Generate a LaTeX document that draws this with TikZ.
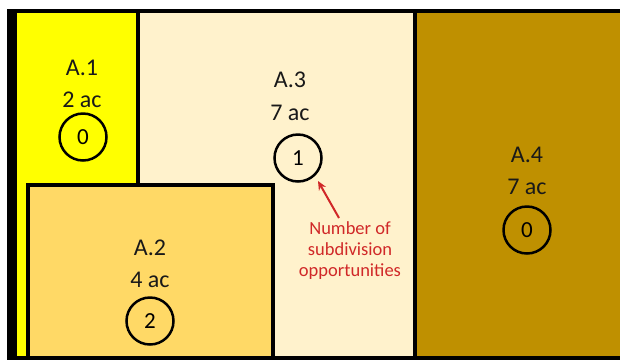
\documentclass[tikz,border=0pt]{standalone}
\usepackage{fontspec}
\setmainfont{Carlito}
\usetikzlibrary{arrows.meta}
\definecolor{aone}{HTML}{FFFF00}
\definecolor{atwo}{HTML}{FFD966}
\definecolor{athree}{HTML}{FFF2CC}
\definecolor{afour}{HTML}{BF9000}
\definecolor{notered}{HTML}{D02828}
\tikzset{
  border/.style={line width=4pt, draw=black},
  lab/.style={font=\fontsize{24}{26}\selectfont, inner sep=0pt, text=black!90},
  num/.style={circle, draw=black, line width=2.5pt, minimum size=47pt, inner sep=0pt, font=\fontsize{23}{25}\selectfont},
  note/.style={font=\fontsize{18.5}{21}\selectfont, text=notered, align=center, inner sep=0pt},
}
\begin{document}
\begin{tikzpicture}[x=1pt,y=1pt]
\useasboundingbox (0,0) rectangle (620,-360);
\fill[white] (0,0) rectangle (620,-360);
% fills
\fill[aone] (17,-12) rectangle (138,-357);
\fill[athree] (138,-12) rectangle (415,-357);
\fill[afour] (415,-12) rectangle (620,-357);
\fill[atwo] (27.5,-185) rectangle (273,-357);
% borders
\fill[black] (7,-8.5) rectangle (17,-360);
\draw[border] (7,-10.5) -- (620,-10.5);
\draw[border] (7,-358) -- (620,-358);
\draw[border] (138,-10.5) -- (138,-185);
\draw[border] (415,-10.5) -- (415,-357);
\draw[border] (27.5,-357) -- (27.5,-185) -- (273,-185) -- (273,-357);
% A.1
\node[lab] (a1) at (82,-68) {A.1};
\node[lab] (a1s) at (82,-100) {2 ac};
\node[num] (c1) at (83,-137) {0};
% A.2
\node[lab] (a2) at (150,-248) {A.2};
\node[lab] (a2s) at (150,-280) {4 ac};
\node[num] (c2) at (150,-321) {2};
% A.3
\node[lab] (a3) at (290,-80) {A.3};
\node[lab] (a3s) at (290,-113) {7 ac};
\node[num] (c3) at (298,-158) {1};
% A.4
\node[lab] (a4) at (527,-155) {A.4};
\node[lab] (a4s) at (527,-187) {7 ac};
\node[num] (c4) at (527,-230) {0};
% note
\node[note] (nt) at (350,-251) {Number of\\subdivision\\opportunities};
\coordinate (tail) at (339,-218);
\coordinate (tip) at (318,-181);
\draw[notered, line width=2pt, -{Stealth[length=9pt,width=8pt]}] (tail) -- (tip);
\end{tikzpicture}
\end{document}
